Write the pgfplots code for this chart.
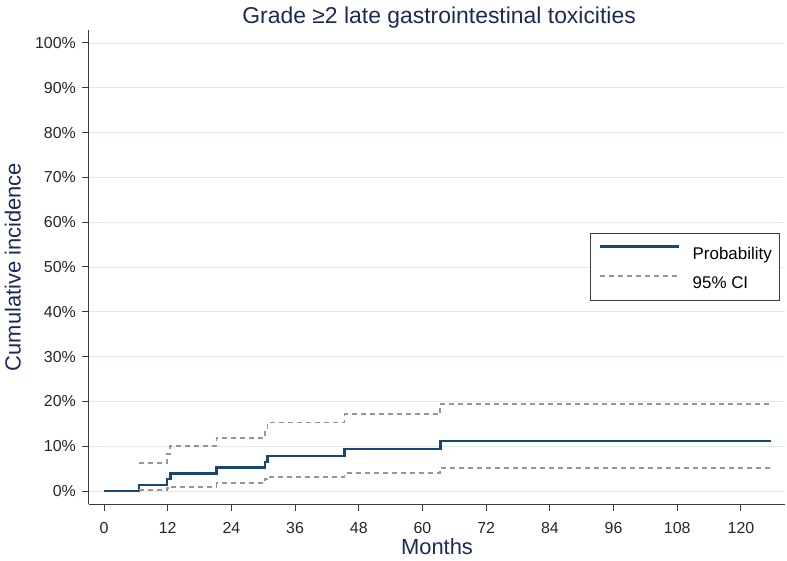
\documentclass[border=0pt]{standalone}
\usepackage{pgfplots}
\pgfplotsset{compat=1.18}
\usepackage{fontspec}
\setmainfont{Liberation Sans}
\definecolor{navytxt}{RGB}{28,40,88}
\definecolor{probline}{RGB}{26,71,111}
\definecolor{cigray}{RGB}{150,150,150}
\definecolor{gridc}{RGB}{222,236,240}
\definecolor{axc}{RGB}{60,60,60}
\begin{document}
\begin{tikzpicture}
\useasboundingbox (-89bp,-57bp) rectangle (698bp,504bp);
\begin{axis}[
  at={(0bp,0bp)}, anchor=south west,
  scale only axis,
  width=696bp, height=474bp,
  xmin=-2.83, xmax=128.3,
  ymin=-2.9, ymax=102.9,
  axis x line*=bottom, axis y line*=left,
  axis line style={-, draw=axc, line width=1bp},
  xtick={0,12,...,120},
  ytick={0,10,...,100},
  tick align=outside,
  major tick length=7bp,
  tick style={draw=axc, line width=1bp},
  ymajorgrids,
  grid style={draw=gridc, line width=0.9bp},
  /pgf/number format/assume math mode=true,
  yticklabel={\pgfmathprintnumber{\tick}\%},
  tick label style={font=\fontsize{16}{19}\selectfont, text=black!85},
  xticklabel style={anchor=north, inner sep=0pt, yshift=-11bp},
  yticklabel style={anchor=east, inner sep=0pt, xshift=-6bp},
  title={Grade ≥2 late gastrointestinal toxicities},
  title style={font=\fontsize{23}{27}\selectfont, text=navytxt, at={(axis description cs:0.503,1)}, anchor=base, yshift=0.5bp, inner sep=0pt},
  xlabel={Months},
  xlabel style={font=\fontsize{22}{26}\selectfont, text=navytxt, at={(axis description cs:0.5,-0.1055)}, anchor=base, inner sep=0pt},
  ylabel={Cumulative incidence},
  ylabel style={font=\fontsize{22}{26}\selectfont, text=navytxt, at={(axis description cs:-0.0981,0.5)}, anchor=base, inner sep=0pt},
  legend style={at={(axis description cs:0.7198,0.5711)}, anchor=north west,
    draw=axc, line width=0.8bp, inner xsep=8bp, inner ysep=7.7bp, row sep=7.4bp,
    column sep=0bp,
    font=\fontsize{17}{20}\selectfont,
    nodes={inner sep=0pt, text height=18bp, text depth=4bp}},
  legend cell align=left,
  legend image code/.code={\draw[#1] (0bp,6bp) -- (79bp,6bp); \path (92bp,6bp);},
  clip=false,
]
\addplot[const plot, draw=probline, line width=2.3bp] coordinates {
(0,0) (6.6,1.34) (11.9,2.68) (12.5,3.94) (21.2,5.28) (30.3,6.55) (30.8,7.88) (45.3,9.3) (63.4,11.16) (125.6,11.16)};
\addlegendentry{Probability}
\addplot[const plot, draw=cigray, line width=1.8bp, dash pattern=on 5bp off 4bp] coordinates {
(6.6,6.3) (11.9,8.2) (12.5,10.0) (21.2,11.9) (30.3,14.0) (30.8,15.3) (45.3,17.1) (63.3,19.4) (125.6,19.4)};
\addlegendentry{95\% CI}
\addplot[const plot, draw=cigray, line width=1.8bp, dash pattern=on 5bp off 4bp, forget plot] coordinates {
(6.6,0.15) (11.9,0.6) (12.5,0.97) (21.2,1.7) (30.3,2.6) (30.8,3.2) (45.3,3.94) (63.3,5.06) (125.6,5.06)};
\end{axis}
\end{tikzpicture}
\end{document}
